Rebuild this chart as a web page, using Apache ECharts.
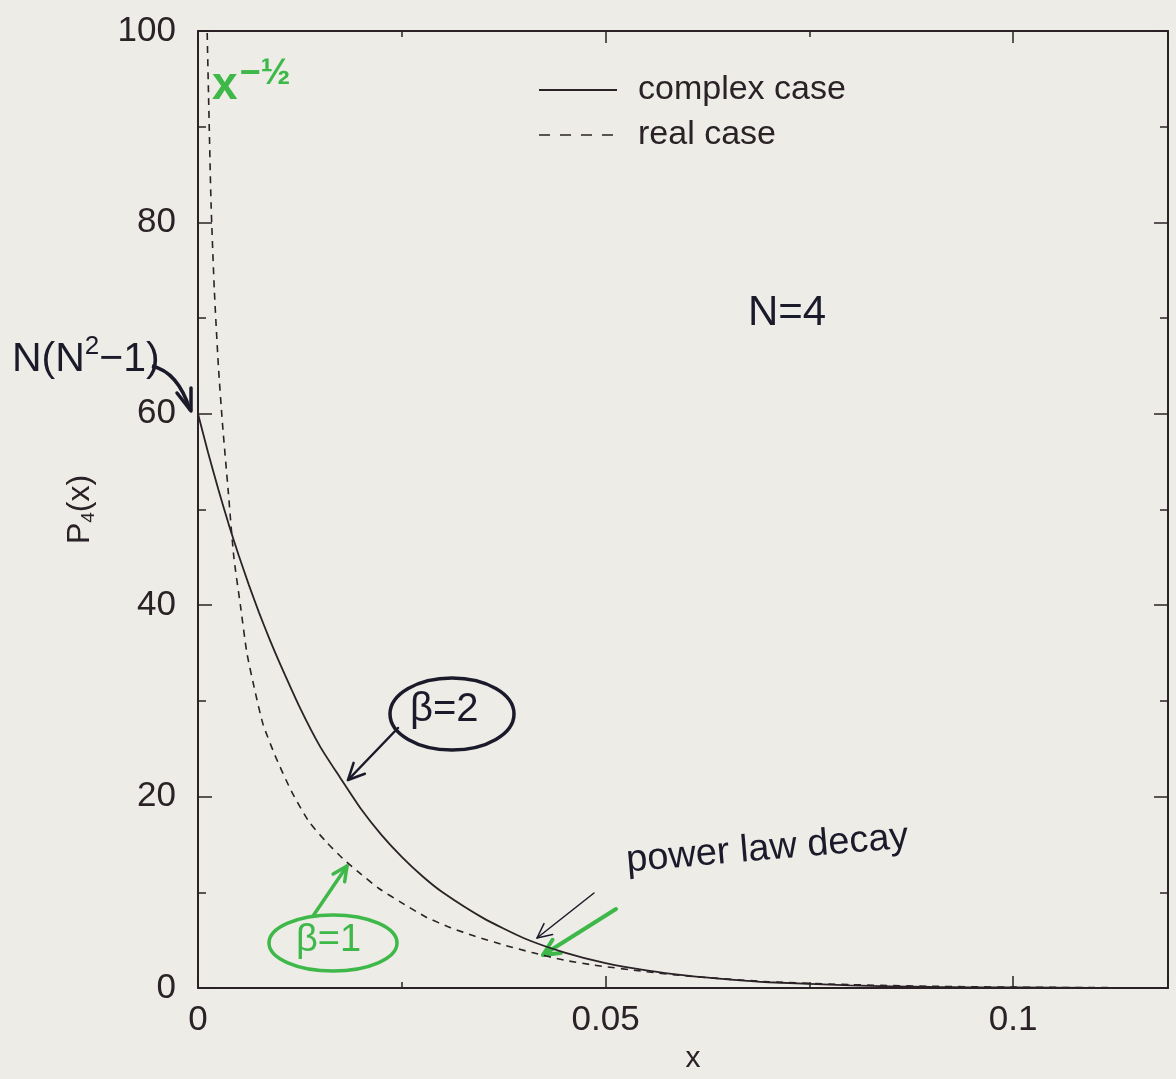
<!DOCTYPE html>
<html>
<head>
<meta charset="utf-8">
<script src="https://cdn.jsdelivr.net/npm/echarts@6/dist/echarts.min.js"></script>
<style>
html,body{margin:0;padding:0;background:#edece7;}
#c{width:1176px;height:1079px;}
</style>
</head>
<body>
<div id="c"></div>
<script>
// ---- data ----
const xComplex = [0, 0.00125, 0.0025, 0.00375, 0.005, 0.00625, 0.0075, 0.00875, 0.01, 0.0125, 0.015, 0.0175, 0.02, 0.0225, 0.025, 0.0275, 0.03, 0.035, 0.04, 0.045, 0.05, 0.055, 0.06, 0.065, 0.07, 0.08, 0.09, 0.1, 0.11, 0.119];
const yComplex = [60, 55.9, 52.1, 48.5, 45.2, 42.1, 39.2, 36.5, 34, 29.3, 25.2, 21.9, 18.7, 16.0, 13.7, 11.7, 10.0, 7.3, 5.2, 3.7, 2.6, 1.85, 1.3, 0.9, 0.6, 0.27, 0.11, 0.05, 0.02, 0.01];
const xReal = [0.0009, 0.0011, 0.0013, 0.0016, 0.002, 0.0025, 0.003, 0.0037, 0.0044, 0.0052, 0.006, 0.007, 0.008, 0.0096, 0.0115, 0.0136, 0.0157, 0.0178, 0.02, 0.0222, 0.025, 0.028, 0.031, 0.034, 0.0375, 0.041, 0.045, 0.0485, 0.055, 0.06, 0.07, 0.08, 0.09, 0.1, 0.11, 0.119];
const yReal = [112, 101, 93, 82, 73, 65, 59, 52, 45, 40, 35, 31, 27.5, 24.0, 20.5, 17.4, 15.3, 13.5, 11.9, 10.4, 8.9, 7.4, 6.3, 5.4, 4.5, 3.7, 2.9, 2.4, 1.7, 1.25, 0.65, 0.35, 0.18, 0.09, 0.04, 0.02];
const seriesNames = ['complex case', 'real case'];
const xTickLabels = {0: '0', 0.05: '0.05', 0.1: '0.1'};
const yTickLabels = {0: '0', 20: '20', 40: '40', 60: '60', 80: '80', 100: '100'};

const ink = '#2a2226';
const pen = '#1b1a2a';
const green = '#3fb84a';
const FONT = 'Liberation Sans';

function pairs(xs, ys){ return xs.map((x,i)=>[x, ys[i]]); }

function arrow(x1,y1,x2,y2,color,w,head){
  const a = Math.atan2(y2-y1, x2-x1);
  const h = head || 16, s = 0.45;
  return {
    type:'group', silent:true,
    children:[
      {type:'line', shape:{x1,y1,x2,y2}, style:{stroke:color, lineWidth:w, lineCap:'round'}},
      {type:'polyline', shape:{points:[
        [x2 - h*Math.cos(a-s), y2 - h*Math.sin(a-s)], [x2,y2],
        [x2 - h*Math.cos(a+s), y2 - h*Math.sin(a+s)]]},
        style:{stroke:color, lineWidth:w, fill:'none', lineCap:'round', lineJoin:'round'}}
    ]
  };
}

const chart = echarts.init(document.getElementById('c'), null, {renderer:'canvas'});

const axisCommon = {
  axisLine:{show:true, onZero:false, lineStyle:{color:ink, width:2}},
  splitLine:{show:false},
};

const option = {
  backgroundColor:'#edece7',
  animation:false,
  grid:{left:198, right:8, top:31, bottom:82, containLabel:false},
  legend:{
    orient:'vertical', left:533, top:68, itemWidth:78, itemHeight:14, itemGap:11,
    itemStyle:{opacity:0, borderWidth:0},
    textStyle:{fontFamily:FONT, fontSize:34, color:ink, padding:[0,0,0,16]},
    data:[{name:seriesNames[0]}, {name:seriesNames[1], lineStyle:{type:[11,10], width:1.6}}]
  },
  xAxis:[
    Object.assign({
      type:'value', min:0, max:0.119, interval:0.05, position:'bottom',
      name:'x', nameLocation:'middle', nameGap:56,
      nameTextStyle:{fontFamily:FONT, fontSize:30, color:ink, padding:[0,0,0,20]},
      axisTick:{show:true, inside:true, length:12, lineStyle:{color:ink, width:1.5}},
      minorTick:{show:true, splitNumber:2, length:6, lineStyle:{color:ink, width:1.5}},
      axisLabel:{margin:15, fontFamily:FONT, fontSize:35, color:ink,
        formatter:v=>{ const k = Math.round(v*1000)/1000; return xTickLabels[k] !== undefined ? xTickLabels[k] : ''; }}
    }, axisCommon),
    Object.assign({
      type:'value', min:0, max:0.119, interval:0.05, position:'top',
      axisTick:{show:true, inside:true, length:12, lineStyle:{color:ink, width:1.5}},
      minorTick:{show:true, splitNumber:2, length:6, lineStyle:{color:ink, width:1.5}},
      axisLabel:{show:false}
    }, axisCommon)
  ],
  yAxis:[
    Object.assign({
      type:'value', min:0, max:100, interval:20, position:'left',
      name:'{p|P}{s|4}{p|(x)}', nameLocation:'middle', nameGap:100, nameRotate:90,
      nameTextStyle:{fontFamily:FONT, color:ink, rich:{
        p:{fontFamily:FONT, fontSize:32, color:ink},
        s:{fontFamily:FONT, fontSize:19, color:ink, verticalAlign:'bottom', padding:[16,0,0,0]}}},
      axisTick:{show:true, inside:true, length:14, lineStyle:{color:ink, width:1.5}},
      minorTick:{show:true, splitNumber:2, length:8, lineStyle:{color:ink, width:1.5}},
      axisLabel:{margin:22, fontFamily:FONT, fontSize:35, color:ink,
        formatter:v=> yTickLabels[v] !== undefined ? yTickLabels[v] : ''}
    }, axisCommon),
    Object.assign({
      type:'value', min:0, max:100, interval:20, position:'right',
      axisTick:{show:true, inside:true, length:14, lineStyle:{color:ink, width:1.5}},
      minorTick:{show:true, splitNumber:2, length:8, lineStyle:{color:ink, width:1.5}},
      axisLabel:{show:false}
    }, axisCommon)
  ],
  series:[
    {name:seriesNames[0], type:'line', xAxisIndex:0, yAxisIndex:0, data:pairs(xComplex,yComplex),
     showSymbol:false, symbol:'none', smooth:0.2, clip:true,
     lineStyle:{color:ink, width:1.8, type:'solid'}, itemStyle:{color:ink}},
    {name:seriesNames[1], type:'line', xAxisIndex:0, yAxisIndex:0, data:pairs(xReal,yReal),
     showSymbol:false, symbol:'none', smooth:0.2, clip:true,
     lineStyle:{color:ink, width:1.6, type:[7,6]}, itemStyle:{color:ink}}
  ],
  graphic:[
    // x^-1/2 (green handwriting)
    {type:'text', left:212, top:56, silent:true, style:{
      text:'{a|x}{b|−½}', rich:{
        a:{fontFamily:FONT, fontSize:46, fill:green, fontWeight:'bold'},
        b:{fontFamily:FONT, fontSize:36, fill:green, fontWeight:'bold', verticalAlign:'top', padding:[0,0,24,2]}}}},
    // N(N^2-1)
    {type:'text', left:12, top:334, silent:true, style:{
      text:'{a|N(N}{b|2}{a|−1)}', rich:{
        a:{fontFamily:FONT, fontSize:41, fill:pen},
        b:{fontFamily:FONT, fontSize:26, fill:pen, verticalAlign:'top', padding:[0,0,26,0]}}}},
    {type:'bezierCurve', silent:true, shape:{x1:152, y1:366, x2:190, y2:410, cpx1:178, cpy1:372},
     style:{stroke:pen, lineWidth:3.5, fill:'none'}},
    {type:'polyline', silent:true, shape:{points:[[177,393],[191,411],[191,388]]},
     style:{stroke:pen, lineWidth:3.5, fill:'none', lineJoin:'round', lineCap:'round'}},
    // N=4
    {type:'text', left:748, top:292, silent:true, style:{text:'N=4', fontFamily:FONT, fontSize:42, fill:pen}},
    // beta = 2
    {type:'ellipse', silent:true, shape:{cx:452, cy:714, rx:62, ry:36}, style:{stroke:pen, lineWidth:3.5, fill:'none'}},
    {type:'text', silent:true, left:410, top:690, style:{text:'β=2', fontFamily:FONT, fontSize:40, fill:pen}},
    arrow(398,728,348,780,pen,2.5,18),
    // beta = 1
    {type:'ellipse', silent:true, shape:{cx:333, cy:943, rx:64, ry:28}, style:{stroke:green, lineWidth:3.5, fill:'none'}},
    {type:'text', silent:true, left:296, top:922, style:{text:'β=1', fontFamily:FONT, fontSize:38, fill:green}},
    arrow(313,916,347,866,green,3.5,16),
    // power law decay
    {type:'text', silent:true, x:628, y:880, rotation:0.085, style:{
      text:'power law decay', fontFamily:FONT, fontSize:38, fill:pen, textVerticalAlign:'bottom'}},
    arrow(594,893,537,938,pen,1.5,16),
    arrow(616,909,543,955,green,4,18)
  ]
};
chart.setOption(option);
</script>
</body>
</html>
